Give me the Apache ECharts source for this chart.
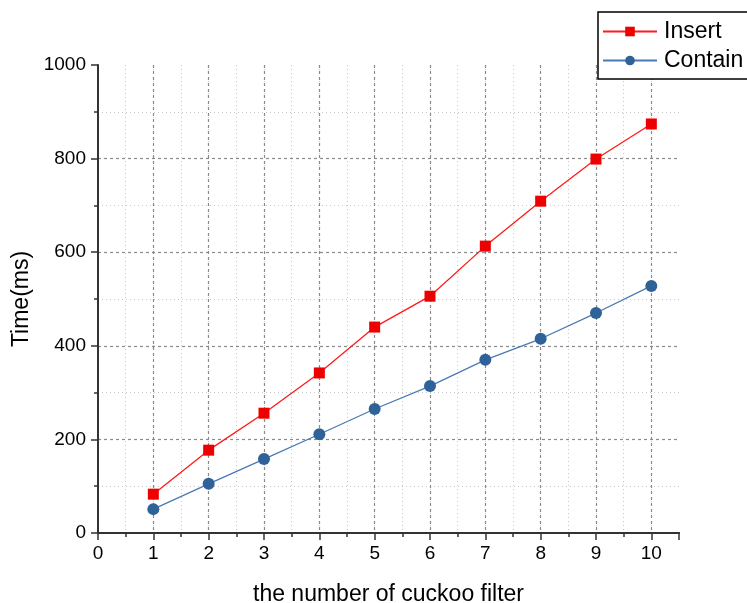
<!DOCTYPE html>
<html>
<head>
<meta charset="utf-8">
<script src="https://cdn.jsdelivr.net/npm/echarts@6/dist/echarts.min.js"></script>
<style>
    html, body { margin: 0; padding: 0; background: #fff; }
    #chart { width: 747px; height: 603px; }
</style>
</head>
<body>
<div id="chart"></div>
<script>
    // 读图得到的数据
    const filterCounts = [1, 2, 3, 4, 5, 6, 7, 8, 9, 10]
    const insertTimes = [83, 177, 256, 342, 440, 506, 613, 709, 799, 874]
    const containTimes = [51, 105, 158, 211, 265, 314, 370, 415, 470, 528]

    const font = 'Arial, "Liberation Sans", sans-serif'

    const chart = echarts.init(document.getElementById('chart'))
    const option = {
        animation: false,
        legend: {
            left: 598,
            top: 12,
            orient: 'vertical',
            backgroundColor: '#fff',
            borderColor: '#000',
            borderWidth: 1.5,
            borderRadius: 0,
            padding: [8, 20, 7, 4],
            itemWidth: 54,
            itemHeight: 12,
            itemGap: 6,
            textStyle: { fontFamily: font, fontSize: 23, color: '#000', padding: [0, 0, 0, 2] },
            data: ['Insert', 'Contain']
        },
        grid: { left: 98, top: 65, right: 68, bottom: 70, outerBoundsMode: 'none' },
        xAxis: [
            {
                // 次刻度 + 点状网格
                type: 'value', min: 0, max: 10.5, interval: 0.5,
                position: 'bottom',
                axisLine: { show: true, onZero: false, lineStyle: { color: '#333', width: 2 } },
                axisTick: { show: true, length: 4, lineStyle: { color: '#333', width: 1.5 } },
                axisLabel: { show: false },
                splitLine: { show: true, showMinLine: false, showMaxLine: false,
                    lineStyle: { color: '#c8c8c8', type: [1, 3], width: 1 } }
            },
            {
                type: 'value', min: 0, max: 10.5, interval: 1,
                position: 'bottom',
                name: 'the number of cuckoo filter',
                nameLocation: 'middle',
                nameGap: 50,
                nameTextStyle: { fontFamily: font, fontSize: 23, color: '#000' },
                axisLine: { show: true, onZero: false, lineStyle: { color: '#333', width: 2 } },
                axisTick: { show: true, length: 7, lineStyle: { color: '#333', width: 1.5 } },
                axisLabel: {
                    fontFamily: font, fontSize: 19, color: '#000', margin: 11,
                    formatter: v => Number.isInteger(v) ? v : ''
                },
                splitLine: { show: true, showMinLine: false, showMaxLine: false,
                    lineStyle: { color: '#8a8a8a', type: [3, 3], width: 1.2 } }
            }
        ],
        yAxis: {
            type: 'value', min: 0, max: 1000, interval: 200,
            name: 'Time(ms)',
            nameLocation: 'middle',
            nameGap: 61,
            nameTextStyle: { fontFamily: font, fontSize: 23, color: '#000' },
            axisLine: { show: true, lineStyle: { color: '#333', width: 2 } },
            axisTick: { show: true, length: 7, lineStyle: { color: '#333', width: 1.5 } },
            minorTick: { show: true, splitNumber: 2, length: 4, lineStyle: { color: '#333', width: 1.5 } },
            axisLabel: { fontFamily: font, fontSize: 19, color: '#000', margin: 12, formatter: v => String(v) },
            splitLine: { show: true, showMinLine: false, showMaxLine: false,
                lineStyle: { color: '#8a8a8a', type: [3, 3], width: 1.2 } },
            minorSplitLine: { show: true, lineStyle: { color: '#c8c8c8', type: [1, 3], width: 1 } }
        },
        series: [
            {
                name: 'Insert',
                type: 'line',
                xAxisIndex: 1,
                data: filterCounts.map((c, i) => [c, insertTimes[i]]),
                symbol: 'rect',
                symbolSize: 11,
                lineStyle: { color: '#ff1a1a', width: 1.3 },
                itemStyle: { color: '#ee0000' }
            },
            {
                name: 'Contain',
                type: 'line',
                xAxisIndex: 1,
                data: filterCounts.map((c, i) => [c, containTimes[i]]),
                symbol: 'circle',
                symbolSize: 12,
                lineStyle: { color: '#4a7ab5', width: 1.3 },
                itemStyle: { color: '#2f6298' }
            }
        ]
    }
    chart.setOption(option)
</script>
</body>
</html>
